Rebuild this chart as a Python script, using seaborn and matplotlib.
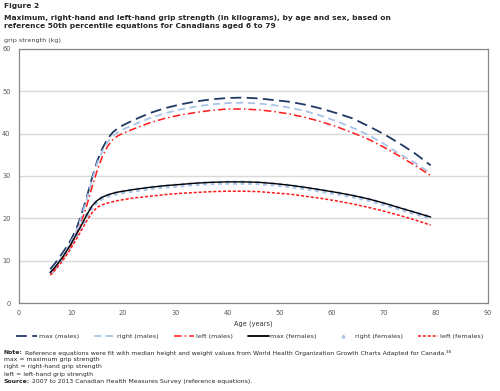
import pandas as pd
import matplotlib
matplotlib.use("Agg")
import matplotlib.pyplot as plt
from matplotlib.lines import Line2D
import seaborn as sns

ages = [6, 7, 8, 9, 10, 11, 12, 13, 14, 15, 16, 17, 18, 19, 20, 22, 25, 28, 31, 34,
        37, 40, 43, 46, 49, 52, 55, 58, 61, 64, 67, 70, 73, 76, 79]

max_males = [8.0, 9.5, 11.2, 13.0, 15.0, 17.5, 21.0, 25.0, 29.5, 33.5, 36.5, 38.8, 40.3, 41.3, 42.0,
             43.2, 44.8, 46.0, 46.9, 47.6, 48.1, 48.4, 48.5, 48.3, 47.9, 47.5, 46.8, 45.9, 44.8,
             43.6, 41.8, 39.9, 37.7, 35.3, 32.5]
right_males = [7.0, 8.6, 10.4, 12.3, 14.4, 16.9, 20.4, 24.5, 29.0, 33.0, 35.9, 38.0, 39.4, 40.3, 41.0,
               42.1, 43.6, 44.8, 45.7, 46.4, 46.9, 47.2, 47.3, 47.1, 46.7, 46.1, 45.3, 44.2, 42.9,
               41.4, 39.7, 37.6, 35.2, 33.1, 30.6]
left_males = [7.0, 8.3, 9.9, 11.7, 13.7, 16.0, 19.2, 23.0, 27.3, 31.3, 34.6, 37.0, 38.6, 39.5, 40.1,
              41.1, 42.5, 43.6, 44.4, 45.0, 45.5, 45.8, 45.8, 45.6, 45.2, 44.6, 43.8, 42.8, 41.6,
              40.2, 38.7, 36.8, 34.7, 32.5, 30.1]
max_females = [7.2, 8.6, 10.2, 12.0, 14.0, 16.2, 18.4, 20.8, 22.9, 24.2, 25.0, 25.5, 25.9, 26.2, 26.4,
               26.8, 27.3, 27.7, 28.0, 28.3, 28.5, 28.6, 28.6, 28.5, 28.2, 27.8, 27.3, 26.7, 26.1,
               25.4, 24.6, 23.6, 22.5, 21.4, 20.3]
right_females = [6.9, 8.4, 10.0, 11.8, 13.8, 16.0, 18.2, 20.6, 22.7, 24.0, 24.8, 25.3, 25.7, 26.0, 26.2,
                 26.6, 27.1, 27.5, 27.8, 28.1, 28.3, 28.4, 28.4, 28.3, 28.0, 27.6, 27.1, 26.5, 25.9,
                 25.2, 24.4, 23.4, 22.3, 21.2, 20.2]
left_females = [6.6, 7.9, 9.4, 11.1, 13.0, 15.1, 17.2, 19.4, 21.3, 22.6, 23.2, 23.6, 23.9, 24.2, 24.4,
                24.8, 25.2, 25.6, 25.9, 26.1, 26.3, 26.4, 26.4, 26.3, 26.0, 25.7, 25.2, 24.7, 24.1,
                23.4, 22.6, 21.7, 20.7, 19.6, 18.4]

labels = ["max (males)", "right (males)", "left (males)",
          "max (females)", "right (females)", "left (females)"]

df = pd.DataFrame({"age": ages, labels[0]: max_males, labels[1]: right_males, labels[2]: left_males,
                   labels[3]: max_females, labels[4]: right_females, labels[5]: left_females})

sns.set_style("white")
plt.rcParams['font.family'] = ['DejaVu Sans']

fig = plt.figure(figsize=(5, 3.91), dpi=100)
ax = fig.add_axes([0.038, 0.225, 0.938, 0.65])

navy = "#203864"
lightblue = "#a9c4e8"
red = "#ff1a1a"

styles = {
    labels[0]: dict(color=navy, lw=1.3, linestyle=(0, (6, 3))),
    labels[1]: dict(color=lightblue, lw=1.3, linestyle=(0, (4, 2.5))),
    labels[2]: dict(color=red, lw=1.1, linestyle=(0, (5, 2, 1, 2))),
    labels[4]: dict(color=lightblue, lw=3.0, linestyle=(0, (0.9, 0.9))),
    labels[3]: dict(color="black", lw=1.0, linestyle="-"),
    labels[5]: dict(color=red, lw=1.1, linestyle=(0, (2, 1.2))),
}
for name, st in styles.items():
    sns.lineplot(data=df, x="age", y=name, ax=ax, **st)

ax.set_xlim(0, 90)
ax.set_ylim(0, 60)
ax.set_xticks(range(0, 91, 10))
ax.set_yticks(range(0, 61, 10))
ax.yaxis.grid(True, color="#d9d9d9", lw=1.0)
ax.set_axisbelow(True)
ax.tick_params(axis="both", labelsize=4.8, colors="#595959", length=0)
ax.tick_params(axis="x", length=2, color="#888888", pad=3)
ax.tick_params(axis="y", pad=6)
for s in ax.spines.values():
    s.set_color("#888888")
    s.set_linewidth(0.9)
ax.set_ylabel("")
ax.set_xlabel("Age (years)", fontsize=4.8, color="#333333", labelpad=3)

fig.text(0.008, 0.893, "grip strength (kg)", fontsize=4.6, color="#444444")

fig.text(0.008, 0.992, "Figure 2", fontsize=5.4, fontweight="bold", va="top")
fig.text(0.008, 0.962,
         "Maximum, right-hand and left-hand grip strength (in kilograms), by age and sex, based on\n"
         "reference 50th percentile equations for Canadians aged 6 to 79",
         fontsize=5.4, fontweight="bold", va="top", linespacing=1.35)

handles = [
    Line2D([], [], color=navy, lw=1.3, linestyle=(0, (6, 3))),
    Line2D([], [], color=lightblue, lw=1.3, linestyle=(0, (4, 2.5))),
    Line2D([], [], color=red, lw=1.1, linestyle=(0, (5, 2, 1, 2))),
    Line2D([], [], color="black", lw=1.3, linestyle="-"),
    Line2D([], [], color=lightblue, marker="^", markersize=2, linestyle="none"),
    Line2D([], [], color=red, lw=1.1, linestyle=(0, (2, 1.2))),
]
fig.legend(handles, labels, loc="center", bbox_to_anchor=(0.5, 0.14), ncol=6, frameon=False,
           fontsize=4.6, handlelength=3.2, handletextpad=0.3, columnspacing=2.4, labelcolor="#333333")

notes_y = 0.105
step = 0.0185
fs = 4.4
t = fig.text(0.008, notes_y, "Note:", fontsize=fs, fontweight="bold", va="top")
plt.annotate("Reference equations were fit with median height and weight values from World Health "
             "Organization Growth Charts Adapted for Canada.\u00b3\u2078",
             xy=(1, 1), xycoords=t, xytext=(1.5, 0), textcoords="offset points", va="top", fontsize=fs)
fig.text(0.008, notes_y - step, "max = maximum grip strength", fontsize=fs, va="top")
fig.text(0.008, notes_y - 2 * step, "right = right-hand grip strength", fontsize=fs, va="top")
fig.text(0.008, notes_y - 3 * step, "left = left-hand grip strength", fontsize=fs, va="top")
s = fig.text(0.008, notes_y - 4 * step, "Source:", fontsize=fs, fontweight="bold", va="top")
plt.annotate("2007 to 2013 Canadian Health Measures Survey (reference equations).",
             xy=(1, 1), xycoords=s, xytext=(1.5, 0), textcoords="offset points", va="top", fontsize=fs)

fig.savefig("out.png", dpi=100)
